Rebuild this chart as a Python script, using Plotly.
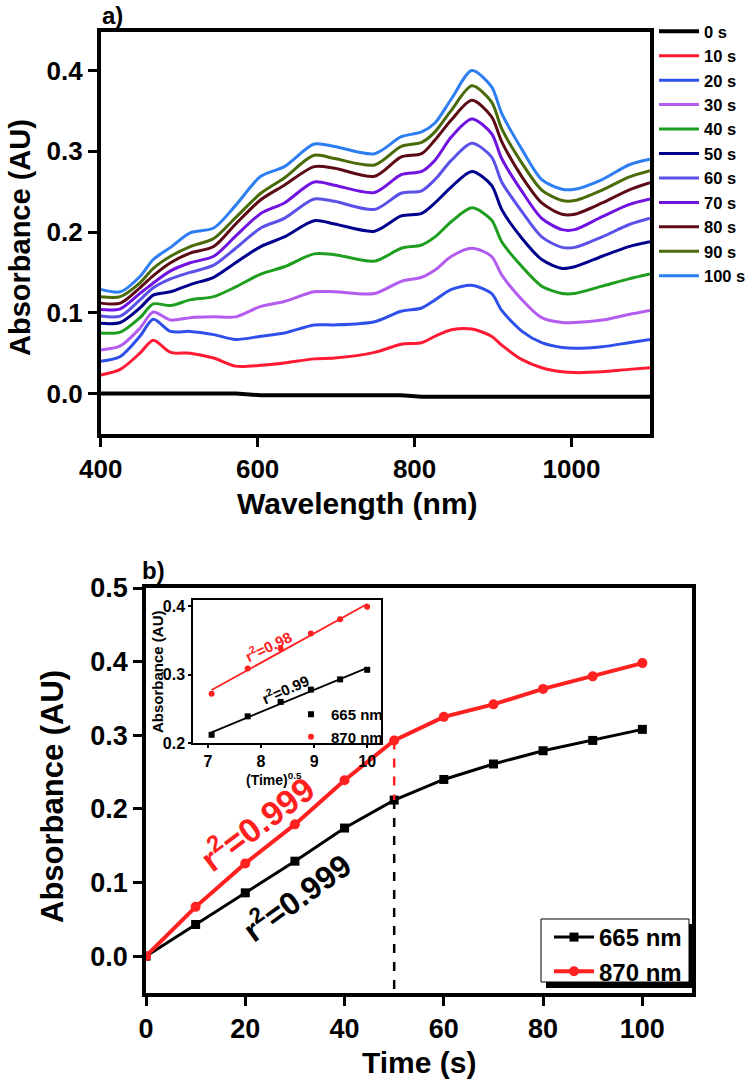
import plotly.graph_objects as go
import numpy as np

# ---------------- data: panel a (UV-vis-NIR spectra) ----------------
wavelength = [400, 425, 450, 467, 489, 514, 544, 572, 604, 634, 672, 698, 749, 783,
              809, 826, 847, 873, 898, 911, 937, 962, 988, 1004, 1039, 1073, 1100]

spec_0s = [0.000, 0.000, 0.000, 0.000, 0.000, 0.000, 0.000, 0.000, -0.002, -0.002, -0.002, -0.002,
           -0.002, -0.002, -0.004, -0.004, -0.004, -0.004, -0.004, -0.004, -0.004, -0.004, -0.004,
           -0.004, -0.004, -0.004, -0.004]
spec_10s = [0.023, 0.030, 0.050, 0.066, 0.051, 0.050, 0.044, 0.034, 0.035, 0.038, 0.043, 0.044, 0.051,
            0.061, 0.063, 0.071, 0.079, 0.080, 0.071, 0.060, 0.042, 0.032, 0.027, 0.026, 0.027, 0.030, 0.032]
spec_20s = [0.040, 0.046, 0.071, 0.092, 0.077, 0.077, 0.073, 0.067, 0.071, 0.075, 0.085, 0.085, 0.089,
            0.102, 0.106, 0.116, 0.129, 0.134, 0.124, 0.103, 0.077, 0.063, 0.057, 0.056, 0.058, 0.063, 0.067]
spec_30s = [0.054, 0.059, 0.081, 0.101, 0.091, 0.094, 0.095, 0.095, 0.108, 0.114, 0.126, 0.126, 0.124,
            0.139, 0.144, 0.153, 0.170, 0.180, 0.170, 0.147, 0.116, 0.094, 0.088, 0.088, 0.091, 0.098, 0.103]
spec_40s = [0.075, 0.076, 0.094, 0.111, 0.109, 0.116, 0.120, 0.132, 0.148, 0.157, 0.173, 0.172, 0.164,
            0.180, 0.184, 0.194, 0.213, 0.230, 0.215, 0.188, 0.157, 0.133, 0.124, 0.124, 0.133, 0.142, 0.148]
spec_50s = [0.087, 0.088, 0.106, 0.122, 0.126, 0.135, 0.144, 0.162, 0.182, 0.194, 0.214, 0.210, 0.201,
            0.220, 0.223, 0.236, 0.256, 0.275, 0.258, 0.228, 0.192, 0.166, 0.155, 0.157, 0.170, 0.182, 0.188]
spec_60s = [0.096, 0.096, 0.116, 0.131, 0.142, 0.150, 0.159, 0.180, 0.205, 0.217, 0.241, 0.238, 0.228,
            0.248, 0.251, 0.265, 0.289, 0.310, 0.293, 0.262, 0.225, 0.194, 0.181, 0.181, 0.194, 0.209, 0.217]
spec_70s = [0.104, 0.105, 0.124, 0.137, 0.152, 0.162, 0.170, 0.195, 0.223, 0.236, 0.262, 0.258, 0.249,
            0.271, 0.275, 0.289, 0.318, 0.340, 0.322, 0.291, 0.250, 0.217, 0.203, 0.203, 0.219, 0.234, 0.241]
spec_80s = [0.112, 0.112, 0.131, 0.146, 0.162, 0.174, 0.182, 0.210, 0.240, 0.258, 0.281, 0.279, 0.269,
            0.293, 0.297, 0.314, 0.339, 0.363, 0.343, 0.312, 0.268, 0.236, 0.222, 0.222, 0.236, 0.252, 0.261]
spec_90s = [0.120, 0.120, 0.137, 0.155, 0.170, 0.182, 0.192, 0.218, 0.248, 0.267, 0.295, 0.291, 0.283,
            0.306, 0.311, 0.324, 0.351, 0.381, 0.361, 0.328, 0.285, 0.252, 0.239, 0.239, 0.252, 0.268, 0.276]
spec_100s = [0.129, 0.126, 0.145, 0.166, 0.181, 0.199, 0.205, 0.233, 0.269, 0.281, 0.309, 0.306, 0.297,
             0.318, 0.324, 0.335, 0.365, 0.400, 0.380, 0.347, 0.302, 0.265, 0.253, 0.253, 0.265, 0.283, 0.290]

spec_labels = ["0 s", "10 s", "20 s", "30 s", "40 s", "50 s", "60 s", "70 s", "80 s", "90 s", "100 s"]
spec_colors = ["#000000", "#FF1A33", "#2F4FEA", "#B25CF0", "#1E9E1E", "#00008C",
               "#5A52E8", "#7012E0", "#5C0A14", "#4A6B0A", "#2C7EF2"]
spectra = [spec_0s, spec_10s, spec_20s, spec_30s, spec_40s, spec_50s,
           spec_60s, spec_70s, spec_80s, spec_90s, spec_100s]

# ---------------- data: panel b (kinetics) ----------------
time_s = [0, 10, 20, 30, 40, 50, 60, 70, 80, 90, 100]
abs_665 = [0.000, 0.043, 0.086, 0.129, 0.174, 0.212, 0.240, 0.261, 0.279, 0.293, 0.308]
abs_870 = [0.000, 0.067, 0.126, 0.179, 0.239, 0.293, 0.325, 0.342, 0.363, 0.380, 0.398]

# inset: absorbance vs (time)^0.5 for 50-100 s
inset_x = [7.07, 7.75, 8.37, 8.94, 9.49, 10.00]
inset_665 = [0.212, 0.239, 0.260, 0.278, 0.293, 0.307]
inset_870 = [0.272, 0.309, 0.338, 0.360, 0.381, 0.399]

FONT = "Liberation Sans, Arial, sans-serif"
NARROW = "Liberation Sans Narrow, Liberation Sans, Arial, sans-serif"
W, H = 755, 1082
RED = "#FF2020"


def px(x):
    return x / W


def py(y):
    return 1 - y / H


fig = go.Figure()

# panel a spectra
for lab, vals, col in zip(spec_labels, spectra, spec_colors):
    fig.add_trace(go.Scatter(
        x=wavelength, y=vals, mode="lines", name=lab,
        line=dict(color=col, width=4 if lab == "0 s" else 3,
                  shape="linear" if lab == "0 s" else "spline", smoothing=0.8),
        xaxis="x", yaxis="y", legend="legend"))

# panel b kinetics
fig.add_trace(go.Scatter(
    x=time_s, y=abs_665, mode="lines+markers", name="665 nm",
    line=dict(color="black", width=3), marker=dict(symbol="square", size=9, color="black"),
    xaxis="x2", yaxis="y2", legend="legend2"))
fig.add_trace(go.Scatter(
    x=time_s, y=abs_870, mode="lines+markers", name="870 nm",
    line=dict(color=RED, width=4), marker=dict(symbol="circle", size=10, color=RED),
    xaxis="x2", yaxis="y2", legend="legend2"))

# drop lines at t = 50 s
i50 = time_s.index(50)
fig.add_trace(go.Scatter(
    x=[time_s[i50], time_s[i50]], y=[abs_870[i50], abs_665[i50]], mode="lines",
    line=dict(color=RED, width=2.5, dash="dash"), showlegend=False,
    xaxis="x2", yaxis="y2", hoverinfo="skip"))
fig.add_trace(go.Scatter(
    x=[time_s[i50], time_s[i50]], y=[abs_665[i50], -0.05], mode="lines",
    line=dict(color="black", width=2.5, dash="dash"), showlegend=False,
    xaxis="x2", yaxis="y2", hoverinfo="skip"))

# inset fits
for yv, col in [(inset_665, "black"), (inset_870, RED)]:
    k, b = np.polyfit(inset_x, yv, 1)
    xf = [inset_x[0], inset_x[-1]]
    fig.add_trace(go.Scatter(
        x=xf, y=[k * xf[0] + b, k * xf[1] + b], mode="lines",
        line=dict(color=col, width=1.8), showlegend=False,
        xaxis="x3", yaxis="y3", hoverinfo="skip"))
fig.add_trace(go.Scatter(
    x=inset_x, y=inset_665, mode="markers", name="665 nm",
    marker=dict(symbol="square", size=6, color="black"),
    xaxis="x3", yaxis="y3", legend="legend3"))
fig.add_trace(go.Scatter(
    x=inset_x, y=inset_870, mode="markers", name="870 nm",
    marker=dict(symbol="circle", size=6, color=RED),
    xaxis="x3", yaxis="y3", legend="legend3"))


def axis(**kw):
    d = dict(showline=True, linecolor="black", linewidth=3.5, mirror=True,
             ticks="outside", ticklen=9, tickwidth=3, tickcolor="black",
             showgrid=False, zeroline=False, automargin=False,
             tickfont=dict(family=FONT, size=26, color="black", weight="bold"))
    d.update(kw)
    return d


narrow_tick = dict(family=NARROW, size=27, color="black", weight="bold")
inset_tick = dict(family=FONT, size=16, color="black", weight="bold")

fig.update_layout(
    width=W, height=H, margin=dict(l=0, r=0, t=0, b=0, autoexpand=False),
    paper_bgcolor="white", plot_bgcolor="rgba(0,0,0,0)",
    xaxis=axis(domain=[px(100.7), px(650)], range=[400, 1100],
               tickvals=[400, 600, 800, 1000], anchor="y"),
    yaxis=axis(domain=[py(434), py(31.7)], range=[-0.05, 0.448],
               tickvals=[0, 0.1, 0.2, 0.3, 0.4], tickformat=".1f", anchor="x"),
    xaxis2=axis(domain=[px(146), px(692)], range=[0, 110],
                tickvals=[0, 20, 40, 60, 80, 100], anchor="y2", tickfont=narrow_tick),
    yaxis2=axis(domain=[py(993), py(588)], range=[-0.05, 0.5],
                tickvals=[0, 0.1, 0.2, 0.3, 0.4, 0.5], tickformat=".1f", anchor="x2",
                tickfont=narrow_tick),
    xaxis3=axis(domain=[px(193), px(381)], range=[6.72, 10.26], tickvals=[7, 8, 9, 10],
                anchor="y3", linewidth=1.5, ticklen=3, tickwidth=1.5, tickfont=inset_tick),
    yaxis3=axis(domain=[py(743), py(600)], range=[0.2, 0.409], tickvals=[0.2, 0.3, 0.4],
                tickformat=".1f", anchor="x3", linewidth=1.5, ticklen=3, tickwidth=1.5,
                tickfont=inset_tick),
    legend=dict(x=px(654), y=py(14), xanchor="left", yanchor="top",
                font=dict(family=FONT, size=16.5, color="black", weight="bold"),
                bgcolor="rgba(0,0,0,0)", borderwidth=0, itemwidth=40, tracegroupgap=0),
    legend2=dict(x=px(549), y=py(915), xanchor="left", yanchor="top",
                 font=dict(family=NARROW, size=24, color="black", weight="bold"),
                 bgcolor="rgba(0,0,0,0)", borderwidth=0, itemwidth=40),
    legend3=dict(x=px(291), y=py(698), xanchor="left", yanchor="top",
                 font=dict(family=FONT, size=15, color="black", weight="bold"),
                 bgcolor="rgba(0,0,0,0)", borderwidth=0, itemsizing="trace", itemwidth=30),
)

# legend box with drop shadow (panel b)
fig.add_shape(type="rect", xref="paper", yref="paper",
              x0=px(546), x1=px(696), y0=py(988), y1=py(924),
              fillcolor="black", line=dict(width=0), layer="above")
fig.add_shape(type="rect", xref="paper", yref="paper",
              x0=px(541), x1=px(689), y0=py(982), y1=py(919),
              fillcolor="white", line=dict(color="black", width=1), layer="above")


def ann(text, x, y, size, color="black", angle=0, family=FONT, xanchor="center"):
    fig.add_annotation(text=text, x=px(x), y=py(y), xref="paper", yref="paper",
                       showarrow=False, textangle=angle, xanchor=xanchor, yanchor="middle",
                       font=dict(family=family, size=size, color=color, weight="bold"))


ann("a)", 100, 16, 24, xanchor="left")
ann("b)", 140, 570, 24, xanchor="left")
ann("Absorbance (AU)", 20, 238, 29, angle=-90)
ann("Wavelength (nm)", 357, 503, 30)
ann("Absorbance (AU)", 52, 797, 31, angle=-90, family=NARROW)
ann("Time (s)", 419, 1062, 30, family=NARROW)
ann("Absorbance (AU)", 157, 672, 15, angle=-90)
ann("(Time)<sup>0.5</sup>", 274, 779, 14)
ann("r<sup>2</sup>=0.999", 255, 822, 34, color=RED, angle=-37)
ann("r<sup>2</sup>=0.999", 296, 896, 32, angle=-36)
ann("r<sup>2</sup>=0.98", 268, 645, 15, color=RED, angle=-26)
ann("r<sup>2</sup>=0.99", 285, 688, 15, angle=-24)

fig.write_html("out.html", config={"displayModeBar": False},
               post_script="document.body.style.margin='0';")
